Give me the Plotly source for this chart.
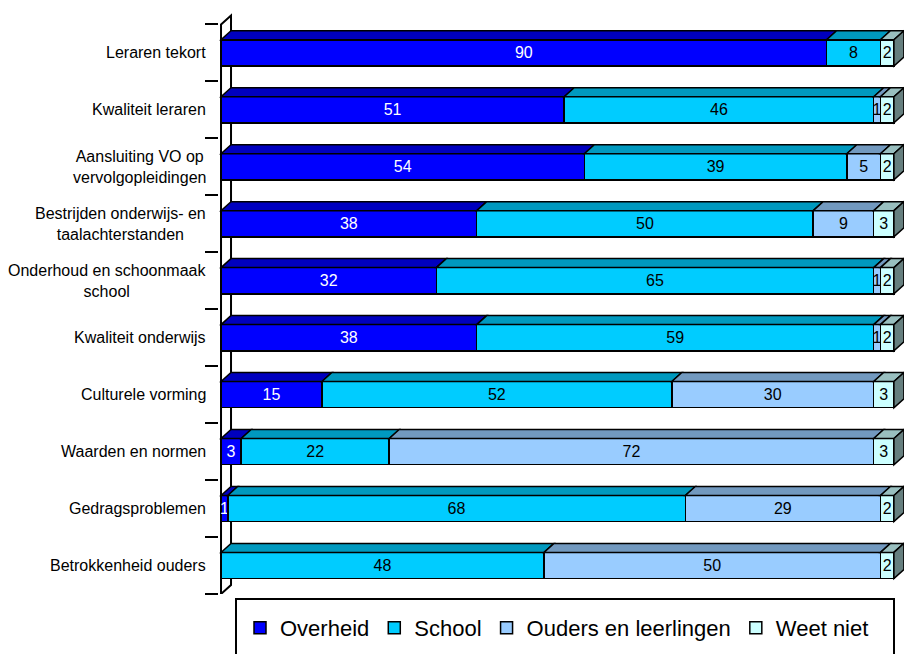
import plotly.graph_objects as go

categories = [
    "Leraren tekort",
    "Kwaliteit leraren",
    "Aansluiting VO op<br>vervolgopleidingen",
    "Bestrijden onderwijs- en<br>taalachterstanden",
    "Onderhoud en schoonmaak<br>school",
    "Kwaliteit onderwijs",
    "Culturele vorming",
    "Waarden en normen",
    "Gedragsproblemen",
    "Betrokkenheid ouders",
]
overheid = [90, 51, 54, 38, 32, 38, 15, 3, 1, 0]
school = [8, 46, 39, 50, 65, 59, 52, 22, 68, 48]
ouders = [0, 1, 5, 9, 1, 1, 30, 72, 29, 50]
weet_niet = [2, 2, 2, 3, 2, 2, 3, 3, 2, 2]

series = [
    ("Overheid", overheid, "#0000FF", "white"),
    ("School", school, "#00CCFF", "black"),
    ("Ouders en leerlingen", ouders, "#99CCFF", "black"),
    ("Weet niet", weet_niet, "#CCFFFF", "black"),
]

FONT = "Arial, Liberation Sans, sans-serif"
W, H = 904, 654
L, R, T, B = 219, 0, 13, 60
X_RANGE = [-0.3, 101.5]
Y_RANGE = [9.5, -0.7]
BAR_W = 0.46

plot_w = W - L - R
plot_h = H - T - B
px_x = plot_w / (X_RANGE[1] - X_RANGE[0])
px_y = plot_h / (Y_RANGE[0] - Y_RANGE[1])
DX = 10 / px_x  # depth of the 3d effect in data units
DY = 9 / px_y


def shade(hex_color, f):
    h = hex_color.lstrip("#")
    r, g, b = (int(h[i:i + 2], 16) for i in (0, 2, 4))
    return "rgb(%d,%d,%d)" % (r * f, g * f, b * f)


def paper_x(px):
    return (px - L) / plot_w


def paper_y(py):
    return (H - B - py) / plot_h


fig = go.Figure()
ypos = list(range(len(categories)))

for name, vals, color, tcolor in series:
    fig.add_trace(
        go.Bar(
            y=ypos,
            x=vals,
            name=name,
            orientation="h",
            width=BAR_W,
            marker=dict(color=color, line=dict(color="black", width=1.5)),
            text=[str(v) if v else "" for v in vals],
            textposition="inside",
            insidetextanchor="middle",
            textangle=0,
            constraintext="none",
            textfont=dict(family=FONT, size=16, color=tcolor),
            hoverinfo="x+name",
        )
    )

shapes = []
# side wall of the 3d plot area
shapes.append(
    dict(
        type="path",
        xref="x", yref="y",
        path="M 0,-0.5 L %f,%f L %f,%f L 0,9.5 Z" % (DX, -0.5 - DY, DX, 9.5 - DY),
        line=dict(color="black", width=2),
        fillcolor="white",
        layer="below",
    )
)

# top faces and end faces of the bars
for i in ypos:
    start = 0
    last = None
    for name, vals, color, tcolor in series:
        v = vals[i]
        if v == 0:
            continue
        x0, x1 = start, start + v
        yt = i - BAR_W / 2
        shapes.append(
            dict(
                type="path", xref="x", yref="y",
                path="M %f,%f L %f,%f L %f,%f L %f,%f Z"
                % (x0, yt, x1, yt, x1 + DX, yt - DY, x0 + DX, yt - DY),
                fillcolor=shade(color, 0.75),
                line=dict(color="black", width=1.5),
                layer="above",
            )
        )
        last = (x1, color)
        start = x1
    if last:
        x1, color = last
        yt, yb = i - BAR_W / 2, i + BAR_W / 2
        shapes.append(
            dict(
                type="path", xref="x", yref="y",
                path="M %f,%f L %f,%f L %f,%f L %f,%f Z"
                % (x1, yt, x1 + DX, yt - DY, x1 + DX, yb - DY, x1, yb),
                fillcolor=shade(color, 0.5),
                line=dict(color="black", width=1.5),
                layer="above",
            )
        )

# legend frame
shapes.append(
    dict(
        type="rect", xref="paper", yref="paper",
        x0=paper_x(236), x1=paper_x(894), y0=paper_y(670), y1=paper_y(599),
        line=dict(color="black", width=2),
        fillcolor="rgba(0,0,0,0)",
    )
)

annotations = []
for i, cat in enumerate(categories):
    annotations.append(
        dict(
            text=cat, xref="paper", yref="y",
            x=paper_x(208), y=i,
            xanchor="right", yanchor="middle", align="center",
            showarrow=False,
            font=dict(family=FONT, size=16, color="black"),
        )
    )

fig.update_layout(
    width=W,
    height=H,
    barmode="stack",
    plot_bgcolor="white",
    paper_bgcolor="white",
    margin=dict(l=L, r=R, t=T, b=B),
    font=dict(family=FONT, color="black"),
    shapes=shapes,
    annotations=annotations,
    showlegend=True,
    legend=dict(
        orientation="h",
        x=paper_x(240),
        y=paper_y(607),
        xanchor="left",
        yanchor="top",
        traceorder="normal",
        font=dict(family=FONT, size=22, color="black"),
        bgcolor="rgba(0,0,0,0)",
    ),
    xaxis=dict(
        range=X_RANGE,
        showgrid=False,
        zeroline=False,
        showticklabels=False,
        showline=False,
        ticks="",
    ),
    yaxis=dict(
        range=Y_RANGE,
        tickvals=[i - 0.5 for i in range(len(categories) + 1)],
        showticklabels=False,
        ticks="outside",
        ticklen=13,
        tickwidth=2,
        tickcolor="black",
        showgrid=False,
        zeroline=False,
        showline=False,
    ),
)

fig.write_html(
    "out.html",
    config={"displayModeBar": False},
    post_script="document.body.style.margin='0';",
)
